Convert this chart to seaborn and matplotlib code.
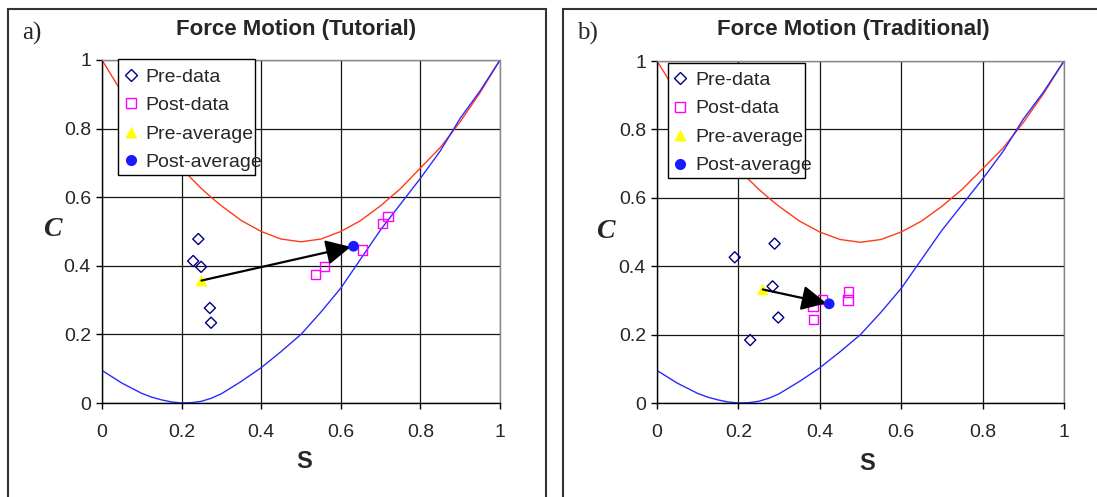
import matplotlib
matplotlib.use("Agg")
import matplotlib.pyplot as plt
from matplotlib.lines import Line2D
from matplotlib.patches import Rectangle
import seaborn as sns

# boundary curves
s_grid = [0.0, 0.05, 0.1, 0.125, 0.15, 0.175, 0.2, 0.225, 0.25, 0.275, 0.3, 0.35, 0.4, 0.45, 0.5,
          0.55, 0.6, 0.65, 0.7, 0.75, 0.8, 0.85, 0.9, 0.95, 1.0]
c_upper = [1.0, 0.905, 0.82, 0.782, 0.745, 0.714, 0.685, 0.654, 0.625, 0.599, 0.575, 0.532, 0.5,
           0.478, 0.47, 0.478, 0.5, 0.532, 0.575, 0.625, 0.685, 0.745, 0.82, 0.905, 1.0]
c_lower = [0.095, 0.058, 0.028, 0.017, 0.009, 0.003, 0.0, 0.001, 0.005, 0.014, 0.027, 0.063, 0.103,
           0.15, 0.2, 0.265, 0.335, 0.42, 0.505, 0.58, 0.655, 0.735, 0.83, 0.91, 1.0]

# panel a: tutorial
tut_pre_s = [0.242, 0.229, 0.249, 0.271, 0.274]
tut_pre_c = [0.478, 0.414, 0.397, 0.277, 0.234]
tut_post_s = [0.537, 0.559, 0.654, 0.705, 0.719]
tut_post_c = [0.375, 0.398, 0.446, 0.524, 0.544]
tut_pre_avg = (0.25, 0.357)
tut_post_avg = (0.632, 0.457)

# panel b: traditional
trad_pre_s = [0.191, 0.289, 0.284, 0.298, 0.229]
trad_pre_c = [0.426, 0.466, 0.341, 0.25, 0.184]
trad_post_s = [0.383, 0.384, 0.407, 0.470, 0.469]
trad_post_c = [0.283, 0.244, 0.302, 0.325, 0.301]
trad_pre_avg = (0.26, 0.332)
trad_post_avg = (0.423, 0.29)

ticks = [0, 0.2, 0.4, 0.6, 0.8, 1.0]
tick_labels = ['0', '0.2', '0.4', '0.6', '0.8', '1']

sns.set_style("white")
plt.rcParams['font.family'] = ['Liberation Sans', 'DejaVu Sans']

W, H = 1097, 497
fig = plt.figure(figsize=(W / 100, H / 100), dpi=100)


def px_axes(left, right, top, bottom):
    return [left / W, 1 - bottom / H, (right - left) / W, (bottom - top) / H]


def draw_panel(ax, pre_s, pre_c, post_s, post_c, pre_avg, post_avg, leg_x, leg_y, box):
    sns.lineplot(x=s_grid, y=c_upper, ax=ax, color='#ff3b1a', lw=1.0, zorder=2)
    sns.lineplot(x=s_grid, y=c_lower, ax=ax, color='#2a2aff', lw=1.0, zorder=2)

    sns.scatterplot(x=pre_s, y=pre_c, ax=ax, marker='D', s=32, color='#000080',
                    facecolor='none', edgecolor='#000080', linewidth=1.0, zorder=3)
    sns.scatterplot(x=post_s, y=post_c, ax=ax, marker='s', s=46, color='#ff00ff',
                    facecolor='none', edgecolor='#ff00ff', linewidth=1.0, zorder=3)
    sns.scatterplot(x=[pre_avg[0]], y=[pre_avg[1]], ax=ax, marker='^', s=70,
                    color='#ffff00', edgecolor='none', zorder=3)
    ax.annotate('', xy=post_avg, xytext=pre_avg,
                arrowprops=dict(arrowstyle='-|>', color='black', lw=1.6,
                                mutation_scale=38, shrinkA=0, shrinkB=2),
                zorder=4)
    sns.scatterplot(x=[post_avg[0]], y=[post_avg[1]], ax=ax, marker='o', s=60,
                    color='#1a1aff', edgecolor='none', zorder=5)

    ax.set_xlim(0, 1)
    ax.set_ylim(0, 1)
    ax.set_xticks(ticks)
    ax.set_xticklabels(tick_labels)
    ax.set_yticks(ticks)
    ax.set_yticklabels(tick_labels)
    ax.set_axisbelow(True)
    ax.grid(True, color='#151515', lw=0.9)
    ax.tick_params(axis='both', direction='out', length=4, width=1, color='black',
                   labelsize=14, left=True, bottom=True)
    ax.tick_params(axis='x', pad=11)
    ax.tick_params(axis='y', pad=4)
    for side in ['left', 'bottom']:
        ax.spines[side].set_color('black')
        ax.spines[side].set_linewidth(1.0)
    for side in ['top', 'right']:
        ax.spines[side].set_color('#888888')
        ax.spines[side].set_linewidth(1.0)
    ax.set_xlabel('')
    ax.set_ylabel('')

    # legend box (Excel style: text runs past the frame)
    ax.add_patch(Rectangle((box[0], box[2]), box[1] - box[0], box[3] - box[2],
                           transform=ax.transAxes, facecolor='white',
                           edgecolor='black', lw=1.0, zorder=6, clip_on=False))
    handles = [
        Line2D([], [], ls='none', marker='D', ms=6, mfc='none', mec='#000080', mew=1.0),
        Line2D([], [], ls='none', marker='s', ms=7, mfc='none', mec='#ff00ff', mew=1.0),
        Line2D([], [], ls='none', marker='^', ms=8.5, mfc='#ffff00', mec='none'),
        Line2D([], [], ls='none', marker='o', ms=8, mfc='#1a1aff', mec='none'),
    ]
    leg = ax.legend(handles, ['Pre-data', 'Post-data', 'Pre-average', 'Post-average'],
                    loc='upper left', bbox_to_anchor=(leg_x, leg_y), frameon=False,
                    borderpad=0, borderaxespad=0, handlelength=0.9, handletextpad=0.3,
                    labelspacing=0.56, fontsize=14)
    leg.set_zorder(7)


ax_a = fig.add_axes(px_axes(102, 500, 60, 403))
draw_panel(ax_a, tut_pre_s, tut_pre_c, tut_post_s, tut_post_c,
           tut_pre_avg, tut_post_avg, 0.050, 0.977, (0.040, 0.384, 0.665, 1.003))

ax_b = fig.add_axes(px_axes(657, 1064, 61, 403))
draw_panel(ax_b, trad_pre_s, trad_pre_c, trad_post_s, trad_post_c,
           trad_pre_avg, trad_post_avg, 0.036, 0.970, (0.026, 0.364, 0.658, 0.994))

# outer panel frames
fig.add_artist(Rectangle((8 / W, -0.2), (546 - 8) / W, 1.2 - 9 / H,
                         transform=fig.transFigure, fill=False, edgecolor='#333333', lw=1.5))
fig.add_artist(Rectangle((563 / W, -0.2), 0.6, 1.2 - 9 / H,
                         transform=fig.transFigure, fill=False, edgecolor='#333333', lw=1.5))

# titles, panel letters and axis labels
fig.text(296 / W, 1 - 29 / H, 'Force Motion (Tutorial)', ha='center', va='center',
         fontsize=16, fontweight='bold')
fig.text(853 / W, 1 - 29 / H, 'Force Motion (Traditional)', ha='center', va='center',
         fontsize=16, fontweight='bold')
fig.text(22 / W, 1 - 33 / H, 'a)', ha='left', va='center', fontsize=18,
         family=['Liberation Serif', 'DejaVu Serif'])
fig.text(577 / W, 1 - 33 / H, 'b)', ha='left', va='center', fontsize=18,
         family=['Liberation Serif', 'DejaVu Serif'])
for cx, cy in [(52, 230), (605, 232)]:
    fig.text(cx / W, 1 - cy / H, 'C', ha='center', va='center', fontsize=20,
             fontweight='bold', fontstyle='italic', family=['Liberation Serif', 'DejaVu Serif'])
for sx, sy in [(304, 462), (867, 463)]:
    fig.text(sx / W, 1 - sy / H, 'S', ha='center', va='center', fontsize=17, fontweight='bold')

fig.savefig('out.png', dpi=100)
